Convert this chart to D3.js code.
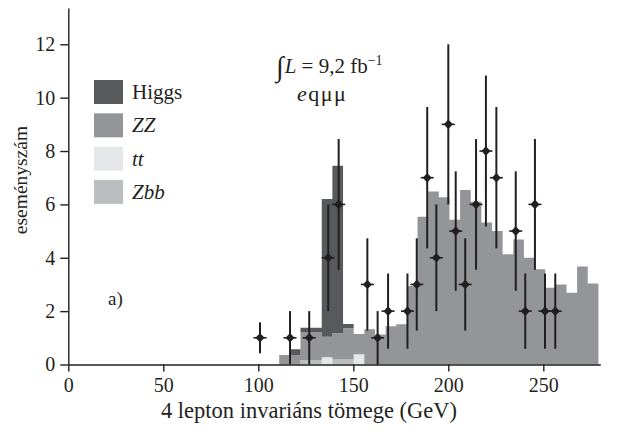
<!DOCTYPE html>
<html>
<head>
<meta charset="utf-8">
<script src="https://cdn.jsdelivr.net/npm/d3@7"></script>
<style>
  html, body { margin: 0; padding: 0; background: #fff; }
  svg { display: block; }
  text { font-family: "Liberation Serif", "DejaVu Serif", serif; fill: #231f20; }
</style>
</head>
<body>
<svg id="chart" width="618" height="433"></svg>
<script>
// Bin edges of the 4-lepton mass histogram (GeV)
const binEdges = [111, 116.6, 122.2, 127.8, 133.4, 139, 144.6, 150.2, 155.8, 161.4,
  167, 172.6, 178.2, 183.8, 189.4, 195, 200.6, 206.2, 211.8, 217.4,
  223, 228.6, 234.2, 239.8, 245.4, 251, 256.6, 262.2, 267.8, 273.4, 279];

// Expected events per bin, one array per process (stacked bottom to top)
const ttVals = [0, 0, 0, 0, 0.27, 0, 0, 0.38, 0, 0,
  0, 0, 0, 0, 0, 0, 0, 0, 0, 0,
  0, 0, 0, 0, 0, 0, 0, 0, 0, 0];
const zbbVals = [0, 0, 0.17, 0.17, 0, 0.19, 0.19, 0, 0, 0,
  0, 0, 0, 0, 0, 0, 0, 0, 0, 0,
  0, 0, 0, 0, 0, 0, 0, 0, 0, 0];
const zzVals = [0.36, 0.36, 1.05, 1.05, 0.77, 0.98, 1.17, 0.76, 1.32, 1.12,
  1.43, 1.51, 2.94, 5.54, 6.48, 6.27, 5.42, 6.54, 6.1, 5.32,
  5.0, 4.13, 4.68, 4.0, 3.57, 2.88, 3.0, 2.69, 3.67, 3.04];
const higgsVals = [0, 0.21, 0.16, 0.16, 5.16, 6.28, 0.16, 0, 0, 0,
  0, 0, 0, 0, 0, 0, 0, 0, 0, 0,
  0, 0, 0, 0, 0, 0, 0, 0, 0, 0];

// Observed events: mass (GeV), count, uncertainty
const obsMass = [100.9, 116.7, 126.8, 136.8, 142.3, 157.4, 162.8, 168.3, 178.5, 183.4,
  188.9, 193.7, 200, 203.9, 208.9, 214.6, 219.8, 225.3, 235.5, 240.5,
  245.6, 250.9, 256.3];
const obsCount = [1, 1, 1, 4, 6, 3, 1, 2, 2, 3,
  7, 4, 9, 5, 3, 6, 8, 7, 5, 2,
  6, 2, 2];
const obsErr = [0.58, 1, 1, 2, 2.45, 1.73, 1, 1.41, 1.41, 1.73,
  2.65, 2, 3, 2.24, 1.73, 2.45, 2.83, 2.65, 2.24, 1.41,
  2.45, 1.41, 1.41];

const xTicks = [0, 50, 100, 150, 200, 250];
const yTicks = [0, 2, 4, 6, 8, 10, 12];

const processes = [
  { key: "tt", label: "tt", italic: true, color: "#e6e7e8", values: ttVals },
  { key: "Zbb", label: "Zbb", italic: true, color: "#bcbec0", values: zbbVals },
  { key: "ZZ", label: "ZZ", italic: true, color: "#939598", values: zzVals },
  { key: "Higgs", label: "Higgs", italic: false, color: "#58595b", values: higgsVals }
];
const legendOrder = ["Higgs", "ZZ", "tt", "Zbb"];

const ink = "#231f20";
const serif = '"Liberation Serif", "DejaVu Serif", serif';
const svg = d3.select("#chart");

const x = d3.scaleLinear().domain([0, 280]).range([68.3, 600.3]);
const y = d3.scaleLinear().domain([0, 13.36]).range([364.5, 8]);

// Stacked histogram
const rows = binEdges.slice(0, -1).map((e, i) => {
  const r = { x0: e, x1: binEdges[i + 1] };
  processes.forEach(p => { r[p.key] = p.values[i]; });
  return r;
});
const stack = d3.stack().keys(processes.map(p => p.key));
const layers = stack(rows);

const area = d3.area()
  .curve(d3.curveStepAfter)
  .x(d => x(d.xe))
  .y0(d => y(d.lo))
  .y1(d => y(d.hi));

layers.forEach((layer, li) => {
  const pts = layer.map(s => ({ xe: s.data.x0, lo: s[0], hi: s[1] }));
  const last = layer[layer.length - 1];
  pts.push({ xe: last.data.x1, lo: last[0], hi: last[1] });
  svg.append("path")
    .attr("d", area(pts))
    .attr("fill", processes[li].color)
    .attr("stroke", "none");
});

// Axes
const xAxis = d3.axisBottom(x).tickValues(xTicks).tickSize(7).tickSizeOuter(0).tickPadding(6);
const yAxis = d3.axisLeft(y).tickValues(yTicks).tickSize(8).tickSizeOuter(0).tickPadding(5);

const gx = svg.append("g").attr("transform", `translate(0,${y(0)})`).call(xAxis);
const gy = svg.append("g").attr("transform", `translate(${x(0)},0)`).call(yAxis);
[gx, gy].forEach(g => {
  g.attr("font-family", null).attr("font-size", null);
  g.selectAll(".domain").attr("stroke", ink).attr("stroke-width", 1.4);
  g.selectAll(".tick line").attr("stroke", ink).attr("stroke-width", 1.4);
  g.selectAll(".tick text")
    .attr("fill", ink)
    .style("font-family", serif)
    .style("font-size", "20px");
});

// Observed data with error bars
const pts = svg.append("g");
obsMass.forEach((m, i) => {
  const cx = x(m), cy = y(obsCount[i]);
  const g = pts.append("g");
  g.append("line")
    .attr("x1", cx).attr("x2", cx)
    .attr("y1", y(Math.max(0, obsCount[i] - obsErr[i])))
    .attr("y2", y(obsCount[i] + obsErr[i]))
    .attr("stroke", ink).attr("stroke-width", 2);
  g.append("line")
    .attr("x1", cx - 6.5).attr("x2", cx + 6.5)
    .attr("y1", cy).attr("y2", cy)
    .attr("stroke", ink).attr("stroke-width", 1.6);
  g.append("path")
    .attr("d", `M${cx},${cy - 4.8}L${cx + 4.5},${cy}L${cx},${cy + 4.8}L${cx - 4.5},${cy}Z`)
    .attr("fill", ink);
});

// Legend
const leg = svg.append("g");
legendOrder.forEach((k, i) => {
  const p = processes.find(q => q.key === k);
  const top = 80 + i * 33.3;
  leg.append("rect")
    .attr("x", 94).attr("y", top).attr("width", 29).attr("height", 24)
    .attr("fill", p.color);
  leg.append("text")
    .attr("x", 132).attr("y", top + 19)
    .style("font-size", "21px")
    .style("font-style", p.italic ? "italic" : "normal")
    .text(p.label);
});

// Luminosity and channel annotation
const lum = svg.append("text").attr("x", 276).attr("y", 73).style("font-size", "21px");
lum.append("tspan").style("font-size", "28px").attr("dy", "3").text("∫");
lum.append("tspan").style("font-style", "italic").attr("dy", "-3").attr("dx", "1").text("L");
lum.append("tspan").text(" = 9,2 fb");
lum.append("tspan").style("font-size", "14px").attr("dy", "-8").text("−1");

const ch = svg.append("text").attr("x", 297).attr("y", 101)
  .style("font-size", "22px").style("letter-spacing", "1.5px");
ch.append("tspan").style("font-style", "italic").text("e");
ch.append("tspan").text("qμμ");

svg.append("text").attr("x", 108).attr("y", 305).style("font-size", "19px").text("a)");

// Axis titles
svg.append("text")
  .attr("x", 309).attr("y", 418)
  .attr("text-anchor", "middle")
  .style("font-size", "22.5px")
  .text("4 lepton invariáns tömege (GeV)");

svg.append("text")
  .attr("transform", "translate(27,180) rotate(-90)")
  .attr("text-anchor", "middle")
  .style("font-size", "19.5px")
  .text("eseményszám");
</script>
</body>
</html>
